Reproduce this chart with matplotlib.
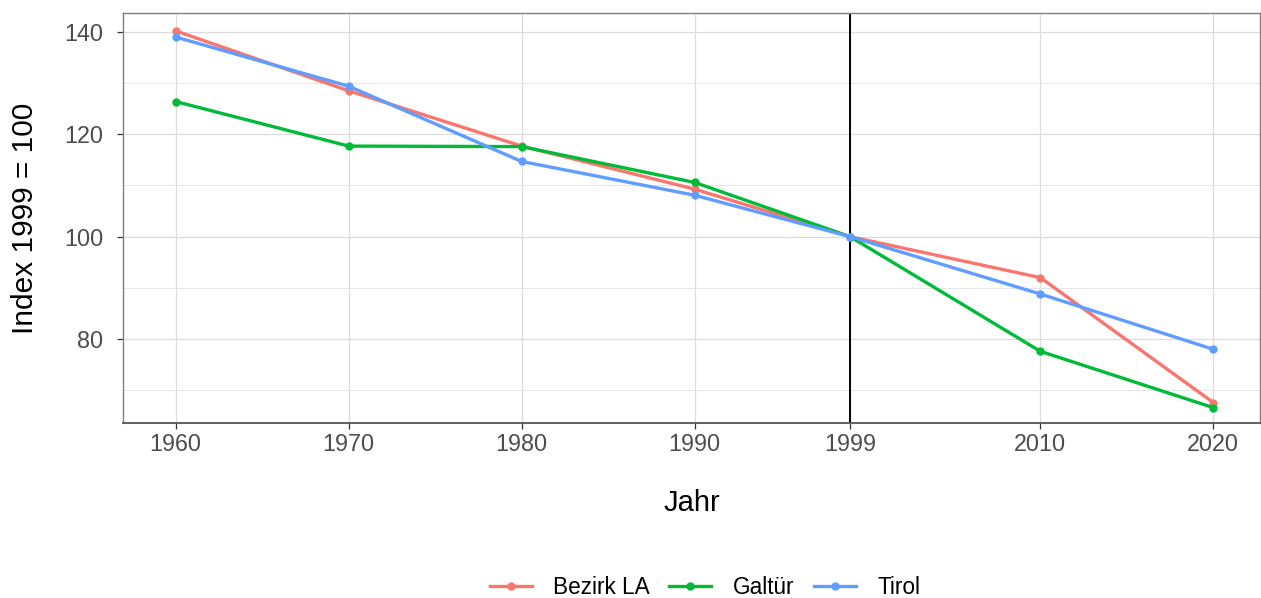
import matplotlib.pyplot as plt
from matplotlib.ticker import MultipleLocator

# === Données (Index 1999 = 100) ===
jahre = [1960, 1970, 1980, 1990, 1999, 2010, 2020]
bezirk_la = [140.2, 128.5, 117.7, 109.3, 100.0, 92.0, 67.6]
galtuer = [126.4, 117.7, 117.6, 110.6, 100.0, 77.6, 66.6]
tirol = [139.0, 129.4, 114.7, 108.1, 100.0, 88.8, 78.0]

labels = ['Bezirk LA', 'Galtür', 'Tirol']
colors = ['#F8766D', '#00BA38', '#619CFF']

plt.rcParams['font.family'] = ['Liberation Sans', 'DejaVu Sans']

fig = plt.figure(figsize=(12.61, 5.98), dpi=100)
ax = fig.add_axes([123 / 1261, 1 - 423 / 598, (1260 - 123) / 1261, (423 - 13) / 598])

for serie, label, color in zip([bezirk_la, galtuer, tirol], labels, colors):
    ax.plot(jahre, serie, color=color, lw=2.4, marker='o', markersize=5, label=label, zorder=3)

ax.axvline(1999, color='black', lw=1.4, zorder=2)

ax.set_xlim(1956.95, 2022.7)
ax.set_ylim(63.6, 143.7)
ax.set_xticks(jahre)
ax.set_yticks([80, 100, 120, 140])
ax.yaxis.set_minor_locator(MultipleLocator(10))

ax.grid(True, which='major', color='#dcdcdc', lw=0.9, zorder=0)
ax.grid(True, which='minor', axis='y', color='#e6e6e6', lw=0.7, zorder=0)
ax.tick_params(which='minor', length=0)
ax.tick_params(which='major', length=4.3, color='#333333', labelsize=16.8, labelcolor='#4d4d4d', width=0.9)
ax.tick_params(axis='x', pad=3.1)
ax.tick_params(axis='y', pad=10)
for s in ax.spines.values():
    s.set_color('#7f7f7f')
    s.set_linewidth(1.0)
ax.spines['bottom'].set_color('#555555')
ax.spines['bottom'].set_linewidth(1.3)

ax.set_xlabel('Jahr', fontsize=21)
ax.set_ylabel('Index 1999 = 100', fontsize=21.5)
ax.xaxis.set_label_coords(0.5, -0.162)
ax.yaxis.set_label_coords(-0.074, 0.5)

fig.legend(loc='center', bbox_to_anchor=(705 / 1261, 1 - 587 / 598), ncol=3, frameon=False,
           fontsize=16.3, handlelength=1.85, columnspacing=0.86, handletextpad=0.95)

fig.savefig('out.png', dpi=100)
